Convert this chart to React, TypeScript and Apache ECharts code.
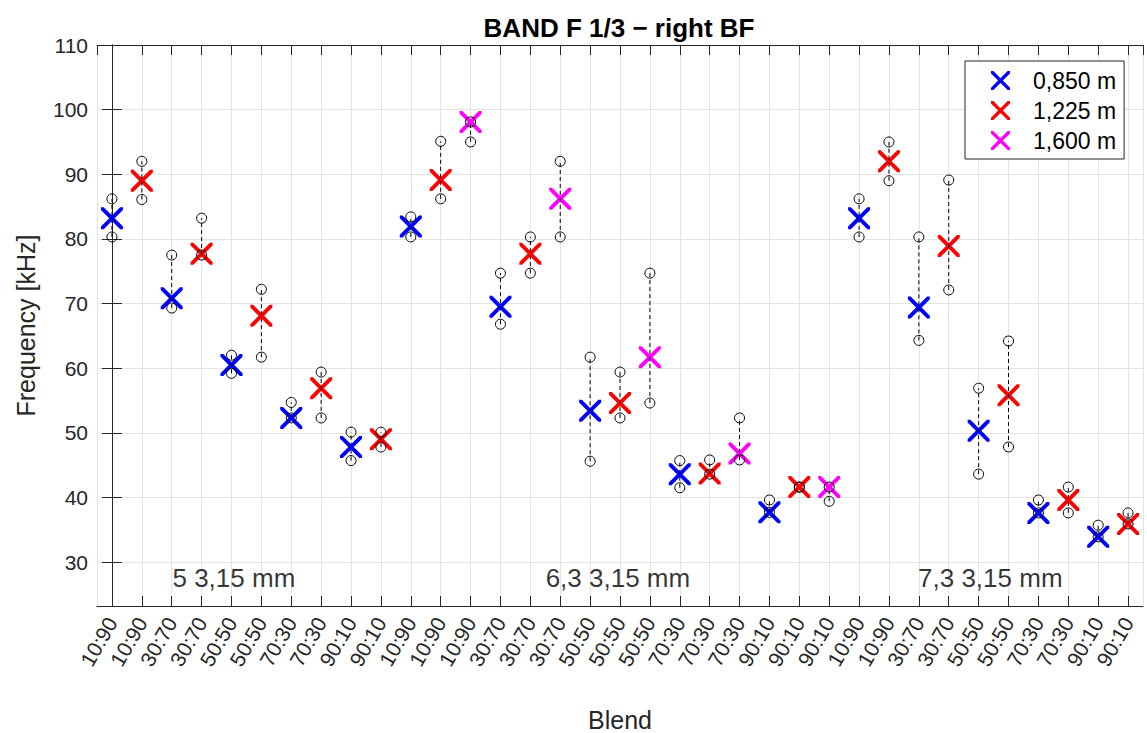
import React, { useEffect, useRef } from 'react';
import * as echarts from 'echarts';

const blends = [
  '10:90', '10:90', '30:70', '30:70', '50:50', '50:50', '70:30', '70:30', '90:10', '90:10',
  '10:90', '10:90', '10:90', '30:70', '30:70', '30:70', '50:50', '50:50', '50:50',
  '70:30', '70:30', '70:30', '90:10', '90:10', '90:10',
  '10:90', '10:90', '30:70', '30:70', '50:50', '50:50', '70:30', '70:30', '90:10', '90:10',
];
const distances = ['0,850 m', '1,225 m', '1,600 m'];
const distanceColors = ['#0000ff', '#ff0000', '#ff00ff'];
const distanceOfPoint = [
  0, 1, 0, 1, 0, 1, 0, 1, 0, 1,
  0, 1, 2, 0, 1, 2, 0, 1, 2, 0, 1, 2, 0, 1, 2,
  0, 1, 0, 1, 0, 1, 0, 1, 0, 1,
];
const meanFreq = [
  83.2, 89.0, 70.8, 77.7, 60.5, 68.1, 52.3, 56.9, 47.8, 49.0,
  81.9, 89.1, 98.1, 69.5, 77.7, 86.2, 53.4, 54.6, 61.7, 43.6, 43.7, 46.8, 37.7, 41.6, 41.6,
  83.2, 92.0, 69.4, 78.9, 50.3, 55.8, 37.6, 39.6, 33.9, 35.9,
];
const highFreq = [
  86.2, 92.0, 77.5, 83.2, 62.0, 72.2, 54.7, 59.4, 50.1, 50.1,
  83.4, 95.1, 98.1, 74.7, 80.3, 92.0, 61.7, 59.4, 74.7, 45.7, 45.8, 52.3, 39.6, 41.6, 41.6,
  86.2, 95.0, 80.3, 89.1, 56.9, 64.2, 39.6, 41.6, 35.7, 37.6,
];
const lowFreq = [
  80.3, 86.1, 69.3, 77.5, 59.2, 61.7, 52.3, 52.3, 45.7, 47.8,
  80.3, 86.2, 95.0, 66.8, 74.7, 80.3, 45.6, 52.3, 54.6, 41.5, 43.6, 45.8, 37.7, 41.6, 39.4,
  80.3, 89.0, 64.3, 72.1, 43.6, 47.8, 37.6, 37.6, 33.9, 35.9,
];
const groupLabels = ['5 3,15 mm', '6,3 3,15 mm', '7,3 3,15 mm'];
const groupLabelX = [4.08, 16.93, 29.39];
const groupLabelY = 27.5;
const yMin = 23.2;
const yMax = 110;

const FONT = '"Liberation Sans", Arial, Helvetica, sans-serif';
const AXIS_COLOR = '#262626';
const GRID_COLOR = '#e3e3e3';
const X_PATH =
  'path://M0,0L2.5,0L10,7.5L17.5,0L20,0L20,2.5L12.5,10L20,17.5L20,20L17.5,20L10,12.5L2.5,20L0,20L0,17.5L7.5,10L0,2.5Z';

export default function App() {
  const ref = useRef<HTMLDivElement>(null);

  useEffect(() => {
    document.body.style.margin = '0';
    if (!ref.current) return;
    const chart = echarts.init(ref.current, undefined, { renderer: 'svg' });

    const xMin = -0.5;
    const xMax = blends.length - 0.5;

    const markerSeries = distances.map((name, d) => ({
      name,
      type: 'scatter',
      xAxisIndex: 0,
      yAxisIndex: 0,
      symbol: X_PATH,
      symbolSize: 22,
      itemStyle: { color: distanceColors[d], opacity: 1 },
      z: 3,
      data: meanFreq
        .map((v, i) => [i, v, distanceOfPoint[i]])
        .filter((p) => p[2] === d)
        .map((p) => [p[0], p[1]]),
    }));

    const rangeData = blends.map((_, i) => [i, lowFreq[i], highFreq[i]]);
    const circleData: number[][] = [];
    blends.forEach((_, i) => {
      circleData.push([i, highFreq[i]]);
      circleData.push([i, lowFreq[i]]);
    });

    const axisLine = { show: true, lineStyle: { color: AXIS_COLOR, width: 1 } };
    const tick = { show: true, inside: true, length: 10, lineStyle: { color: AXIS_COLOR, width: 1 } };

    chart.setOption({
      animation: false,
      backgroundColor: '#ffffff',
      textStyle: { fontFamily: FONT },
      grid: { left: 97, top: 45, right: 4, bottom: 127, containLabel: false, outerBoundsMode: 'none' },
      graphic: [
        {
          type: 'text',
          x: 619,
          y: 28,
          style: {
            text: 'BAND F 1/3 − right BF',
            fontSize: 26,
            fontWeight: 'bold',
            fontFamily: FONT,
            fill: '#000000',
            textAlign: 'center',
            textVerticalAlign: 'middle',
          },
        },
      ],
      legend: {
        data: distances,
        orient: 'vertical',
        left: 965,
        top: 61,
        backgroundColor: '#ffffff',
        borderColor: AXIS_COLOR,
        borderWidth: 1,
        borderRadius: 0,
        padding: [8, 8, 7, 26],
        itemGap: 7,
        itemWidth: 19,
        itemHeight: 19,
        selectedMode: false,
        icon: X_PATH,
        textStyle: {
          fontSize: 23,
          lineHeight: 23,
          color: '#000000',
          fontFamily: FONT,
          padding: [0, 0, 0, 18],
        },
      },
      xAxis: [
        {
          type: 'value',
          position: 'bottom',
          min: xMin,
          max: xMax,
          splitNumber: blends.length,
          name: 'Blend',
          nameLocation: 'middle',
          nameGap: 101,
          nameTextStyle: { fontSize: 25, color: AXIS_COLOR, fontFamily: FONT },
          axisLine,
          axisTick: tick,
          axisLabel: {
            rotate: 60,
            fontSize: 21,
            color: AXIS_COLOR,
            margin: 13,
            showMinLabel: false,
            showMaxLabel: false,
            fontFamily: FONT,
            formatter: (v: number) => (Number.isInteger(v) && v >= 0 && v < blends.length ? blends[v] : ''),
          },
          splitLine: { show: true, lineStyle: { color: GRID_COLOR, width: 1 } },
        },
        {
          type: 'value',
          position: 'top',
          min: xMin,
          max: xMax,
          splitNumber: blends.length,
          axisLine,
          axisTick: tick,
          axisLabel: { show: false },
          splitLine: { show: false },
        },
      ],
      yAxis: [
        {
          type: 'value',
          position: 'left',
          min: yMin,
          max: yMax,
          splitNumber: 9,
          name: 'Frequency [kHz]',
          nameLocation: 'middle',
          nameGap: 59,
          nameTextStyle: { fontSize: 25, color: AXIS_COLOR, fontFamily: FONT },
          axisLine,
          axisTick: tick,
          axisLabel: {
            fontSize: 21,
            color: AXIS_COLOR,
            margin: 9,
            showMinLabel: false,
            fontFamily: FONT,
          },
          splitLine: { show: true, lineStyle: { color: GRID_COLOR, width: 1 } },
        },
        {
          type: 'value',
          position: 'right',
          min: yMin,
          max: yMax,
          splitNumber: 9,
          axisLine,
          axisTick: tick,
          axisLabel: { show: false },
          splitLine: { show: false },
        },
      ],
      series: [
        ...markerSeries,
        {
          name: 'range',
          type: 'custom',
          xAxisIndex: 0,
          yAxisIndex: 0,
          z: 4,
          data: rangeData,
          renderItem: (params: any, api: any) => {
            const x = api.value(0);
            const p1 = api.coord([x, api.value(1)]);
            const p2 = api.coord([x, api.value(2)]);
            return {
              type: 'line',
              shape: { x1: p1[0], y1: p1[1], x2: p2[0], y2: p2[1] },
              style: { stroke: '#000000', lineWidth: 1, lineDash: [4, 3] },
            };
          },
        },
        {
          name: 'limits',
          type: 'scatter',
          xAxisIndex: 0,
          yAxisIndex: 0,
          z: 5,
          symbol: 'circle',
          symbolSize: 10,
          itemStyle: { color: 'rgba(0,0,0,0)', borderColor: '#000000', borderWidth: 1, opacity: 1 },
          data: circleData,
        },
        {
          name: 'groups',
          type: 'scatter',
          xAxisIndex: 0,
          yAxisIndex: 0,
          symbolSize: 0,
          z: 6,
          label: {
            show: true,
            position: 'inside',
            formatter: (p: any) => p.name,
            fontSize: 26,
            color: '#000000',
            fontFamily: FONT,
          },
          data: groupLabels.map((name, i) => ({ name, value: [groupLabelX[i], groupLabelY] })),
        },
      ],
    });

    return () => chart.dispose();
  }, []);

  return <div ref={ref} style={{ width: 1147, height: 733 }} />;
}
